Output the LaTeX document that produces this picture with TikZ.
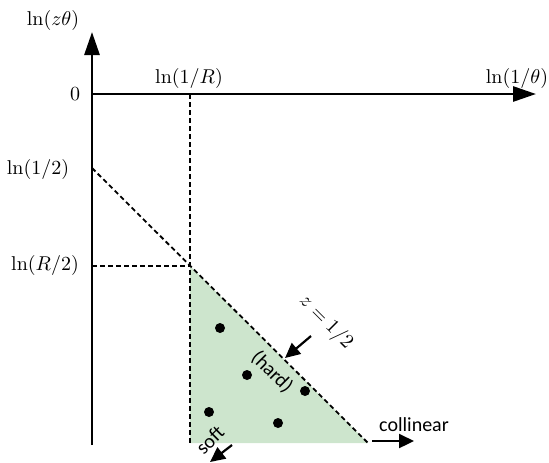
\documentclass[tikz,border=0pt]{standalone}
\usepackage{fontspec}
\newfontfamily\labelfont{Carlito}
\usetikzlibrary{arrows.meta}
\definecolor{softgreen}{RGB}{205,229,205}
\tikzset{
  axis/.style={line width=1.4pt,-{Triangle[length=11.5pt,width=7.5pt]}},
  guide/.style={line width=0.9pt,dash pattern=on 2.4pt off 1.6pt},
  pointer/.style={line width=1.1pt,-{Triangle[length=7.5pt,width=7pt]}},
  dot/.style={circle,fill=black,inner sep=0pt,minimum size=5pt},
  lbl/.style={font=\labelfont, inner sep=1pt},
  mlbl/.style={inner sep=1pt}
}
\begin{document}
\begin{tikzpicture}[x=0.5pt,y=-0.5pt]
\useasboundingbox (0,0) rectangle (549,462);
% region
\fill[softgreen] (190,266) -- (190,443) -- (368,443) -- cycle;
% coordinates
\coordinate (O) at (92,94);
\coordinate (ybot) at (92,445);
\coordinate (ytop) at (92,32);
\coordinate (xtip) at (536,94);
\coordinate (Rtop) at (190,94);
\coordinate (Rbot) at (190,443);
\coordinate (half) at (92,168);
\coordinate (Rhalf) at (92,266);
\coordinate (corner) at (190,266);
\coordinate (end) at (368,443);
% guides
\draw[guide] (Rtop) -- (Rbot);
\draw[guide] (half) -- (end);
\draw[guide] (Rhalf) -- (corner);
% axes
\draw[axis] (ybot) -- (ytop);
\draw[axis] (O) -- (xtip);
% labels
\node[mlbl] (lzt) at (53,20) {$\ln(z\theta)$};
\node[mlbl] (zero) at (75,94) {$0$};
\node[mlbl] (l1R) at (189,78) {$\ln(1/R)$};
\node[mlbl] (l1t) at (517,78) {$\ln(1/\theta)$};
\node[mlbl] (l12) at (38,169) {$\ln(1/2)$};
\node[mlbl] (lR2) at (45,265) {$\ln(R/2)$};
% dots
\node[dot] (d1) at (220,328) {};
\node[dot] (d2) at (247,375) {};
\node[dot] (d3) at (305,391) {};
\node[dot] (d4) at (209,412) {};
\node[dot] (d5) at (278,423) {};
% annotations
\node[mlbl,rotate=-45] (zlab) at (326,322) {$z=1/2$};
\coordinate (zt) at (311,336);
\coordinate (zh) at (285,358);
\draw[pointer] (zt) -- (zh);
\node[lbl,rotate=-45] (hard) at (272,372) {(hard)};
\node[lbl,rotate=45] (soft) at (210,440) {soft};
\coordinate (st) at (232,445);
\coordinate (sh) at (210,462);
\draw[pointer] (st) -- (sh);
\coordinate (ct) at (372,441);
\coordinate (ch) at (414,441);
\draw[pointer] (ct) -- (ch);
\node[lbl] (coll) at (414,425) {collinear};
\end{tikzpicture}
\end{document}
